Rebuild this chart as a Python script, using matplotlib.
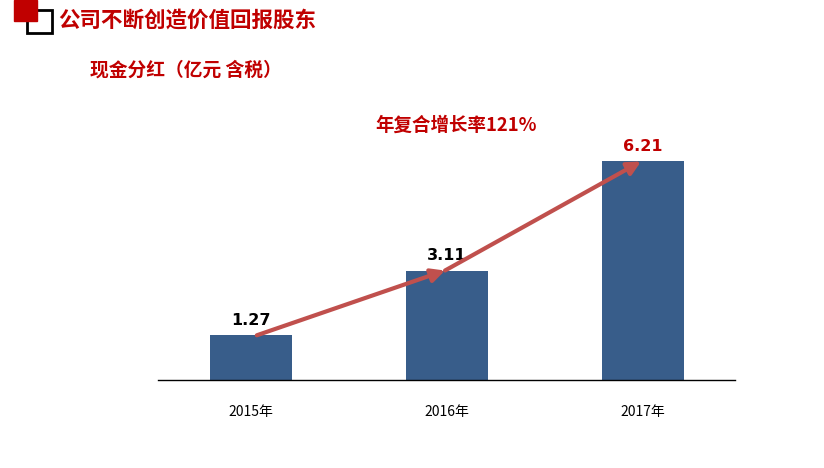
import matplotlib.pyplot as plt
from matplotlib.patches import Rectangle

plt.rcParams['font.family'] = ['Noto Sans CJK SC', 'DejaVu Sans']

years = ['2015年', '2016年', '2017年']
dividends = [1.27, 3.11, 6.21]
label_colors = ['black', 'black', '#c00000']
growth_text = '年复合增长率121%'

dark_red = '#c00000'
bar_color = '#385d8a'
arrow_color = '#c0504d'

fig = plt.figure(figsize=(8.24, 4.68), dpi=100)
W, H = 824, 468

# header decoration
fig.patches.append(Rectangle((14 / W, 1 - 21 / H), 23 / W, 21 / H,
                             transform=fig.transFigure, color=dark_red, zorder=2))
fig.patches.append(Rectangle((27 / W, 1 - 33 / H), 25 / W, 23 / H,
                             transform=fig.transFigure, fill=False, ec='black', lw=2, zorder=1))
fig.text(58 / W, 1 - 20 / H, '公司不断创造价值回报股东', color=dark_red,
         fontsize=15.5, fontweight='bold', va='center', ha='left')
fig.text(90 / W, 1 - 70 / H, '现金分红（亿元 含税）', color=dark_red,
         fontsize=13.5, fontweight='bold', va='center', ha='left')

# chart axes
ax = fig.add_axes([158 / W, 1 - 380 / H, (735 - 158) / W, 280 / H])
x = list(range(len(years)))
ax.bar(x, dividends, width=0.42, color=bar_color, zorder=2)
ax.set_xlim(-0.474, 2.469)
ax.set_ylim(0, 280 / 35.2)

for i, (v, c) in enumerate(zip(dividends, label_colors)):
    ax.text(i, v + 0.2, f'{v:.2f}', ha='center', va='bottom', fontsize=11.5,
            fontweight='bold', color=c, family=['DejaVu Sans'])

ax.set_xticks(x)
ax.set_xticklabels(years, fontsize=10)
ax.tick_params(axis='x', length=0, pad=18)
ax.set_yticks([])
for s in ['top', 'left', 'right']:
    ax.spines[s].set_visible(False)
ax.spines['bottom'].set_linewidth(1)

# growth arrows, bar top to bar top
offsets = [0.03, -0.01, -0.01]
pts = [(i + o, v) for i, (o, v) in enumerate(zip(offsets, dividends))]
for a, b in zip(pts[:-1], pts[1:]):
    ax.annotate('', xy=b, xytext=a,
                arrowprops=dict(arrowstyle='-|>,head_length=0.8,head_width=0.4',
                                color=arrow_color, lw=3, shrinkA=0, shrinkB=0),
                zorder=3)

fig.text(375 / W, 1 - 125 / H, growth_text, color=dark_red, fontsize=13.3,
         fontweight='bold', va='center', ha='left')

fig.savefig('out.png', dpi=100)
